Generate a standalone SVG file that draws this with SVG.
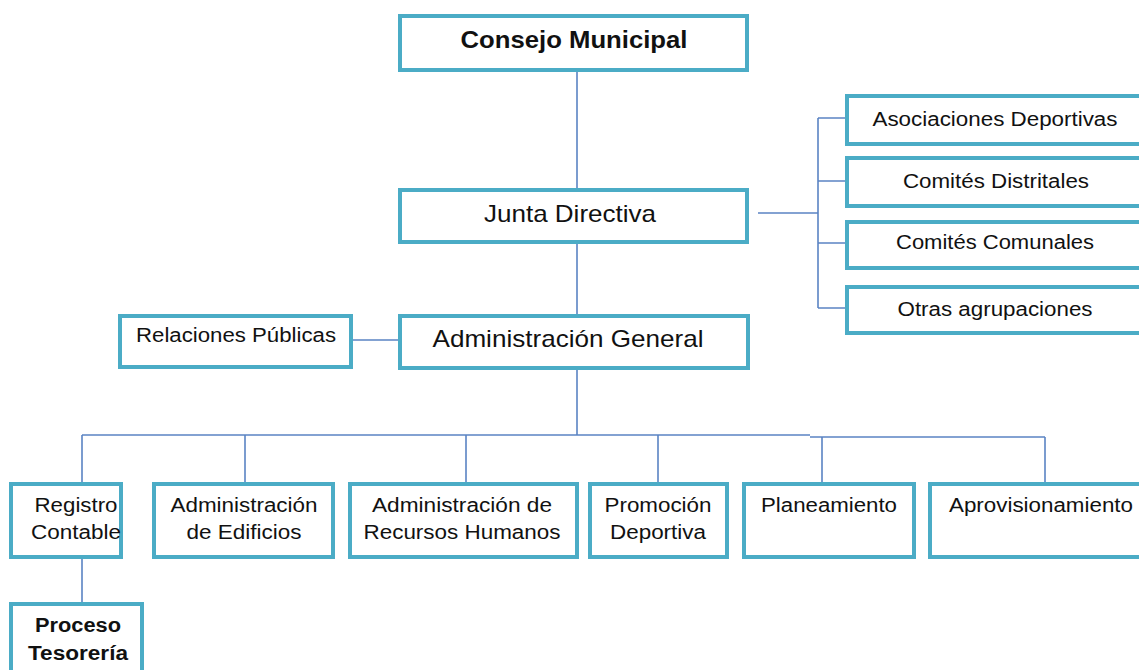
<svg xmlns="http://www.w3.org/2000/svg" width="1139" height="670" viewBox="0 0 1139 670">
<style>
.box{fill:#fff;stroke:#4BACC6;stroke-width:4}
.t{font-family:"Liberation Sans",Arial,sans-serif;fill:#111;text-anchor:middle}
.b{font-weight:bold}
.c{fill:none;stroke:#5B84C4;stroke-width:1.6}
</style>
<rect width="1139" height="670" fill="#fff"/>
<g id="connectors">
<path class="c" d="M577 71V188M577 243V315M758 213H818M818 118V308M818 118H846M818 181H846M818 243H846M818 308H846M352 340H399M577 369V435M82 435H810M810 437H1045M82 435V483M245 435V483M466 435V483M658 435V483M822 437V483M1045 437V483M82 558V603"/>
</g>
<g id="consejo"><rect class="box" x="400" y="16" width="347" height="54"/><text class="t b" x="574" y="48" font-size="24" textLength="227" lengthAdjust="spacingAndGlyphs">Consejo Municipal</text></g>
<g id="junta"><rect class="box" x="400" y="190" width="347" height="52"/><text class="t" x="570" y="222" font-size="24" textLength="172" lengthAdjust="spacingAndGlyphs">Junta Directiva</text></g>
<g id="admin"><rect class="box" x="400" y="316" width="348" height="52"/><text class="t" x="568" y="347" font-size="24" textLength="271" lengthAdjust="spacingAndGlyphs">Administración General</text></g>
<g id="relaciones"><rect class="box" x="120" y="316" width="231" height="51"/><text class="t" x="236" y="342" font-size="20" textLength="200" lengthAdjust="spacingAndGlyphs">Relaciones Públicas</text></g>
<g id="asociaciones"><rect class="box" x="847" y="96" width="296" height="48"/><text class="t" x="995" y="126" font-size="20" textLength="245" lengthAdjust="spacingAndGlyphs">Asociaciones Deportivas</text></g>
<g id="distritales"><rect class="box" x="847" y="158" width="296" height="48"/><text class="t" x="996" y="188" font-size="20" textLength="186" lengthAdjust="spacingAndGlyphs">Comités Distritales</text></g>
<g id="comunales"><rect class="box" x="847" y="222" width="296" height="46"/><text class="t" x="995" y="249" font-size="20" textLength="198" lengthAdjust="spacingAndGlyphs">Comités Comunales</text></g>
<g id="otras"><rect class="box" x="847" y="287" width="296" height="46"/><text class="t" x="995" y="316" font-size="20" textLength="195" lengthAdjust="spacingAndGlyphs">Otras agrupaciones</text></g>
<g id="registro"><rect class="box" x="11" y="484" width="110" height="73"/><text class="t" x="76" y="512" font-size="20" textLength="83" lengthAdjust="spacingAndGlyphs">Registro</text><text class="t" x="76" y="539" font-size="20" textLength="90" lengthAdjust="spacingAndGlyphs">Contable</text></g>
<g id="edificios"><rect class="box" x="154" y="484" width="179" height="73"/><text class="t" x="244" y="512" font-size="20" textLength="147" lengthAdjust="spacingAndGlyphs">Administración</text><text class="t" x="244" y="539" font-size="20" textLength="115" lengthAdjust="spacingAndGlyphs">de Edificios</text></g>
<g id="rrhh"><rect class="box" x="350" y="484" width="227" height="73"/><text class="t" x="462" y="512" font-size="20" textLength="180" lengthAdjust="spacingAndGlyphs">Administración  de</text><text class="t" x="462" y="539" font-size="20" textLength="197" lengthAdjust="spacingAndGlyphs">Recursos Humanos</text></g>
<g id="promocion"><rect class="box" x="590" y="484" width="137" height="73"/><text class="t" x="658" y="512" font-size="20" textLength="107" lengthAdjust="spacingAndGlyphs">Promoción</text><text class="t" x="658" y="539" font-size="20" textLength="96" lengthAdjust="spacingAndGlyphs">Deportiva</text></g>
<g id="planeamiento"><rect class="box" x="744" y="484" width="170" height="73"/><text class="t" x="829" y="512" font-size="20" textLength="136" lengthAdjust="spacingAndGlyphs">Planeamiento</text></g>
<g id="aprovisionamiento"><rect class="box" x="930" y="484" width="213" height="73"/><text class="t" x="1041" y="512" font-size="20" textLength="184" lengthAdjust="spacingAndGlyphs">Aprovisionamiento</text></g>
<g id="tesoreria"><rect class="box" x="11" y="604" width="131" height="70"/><text class="t b" x="78" y="632" font-size="20" textLength="86" lengthAdjust="spacingAndGlyphs">Proceso</text><text class="t b" x="78" y="660" font-size="20" textLength="100" lengthAdjust="spacingAndGlyphs">Tesorería</text></g>
</svg>
